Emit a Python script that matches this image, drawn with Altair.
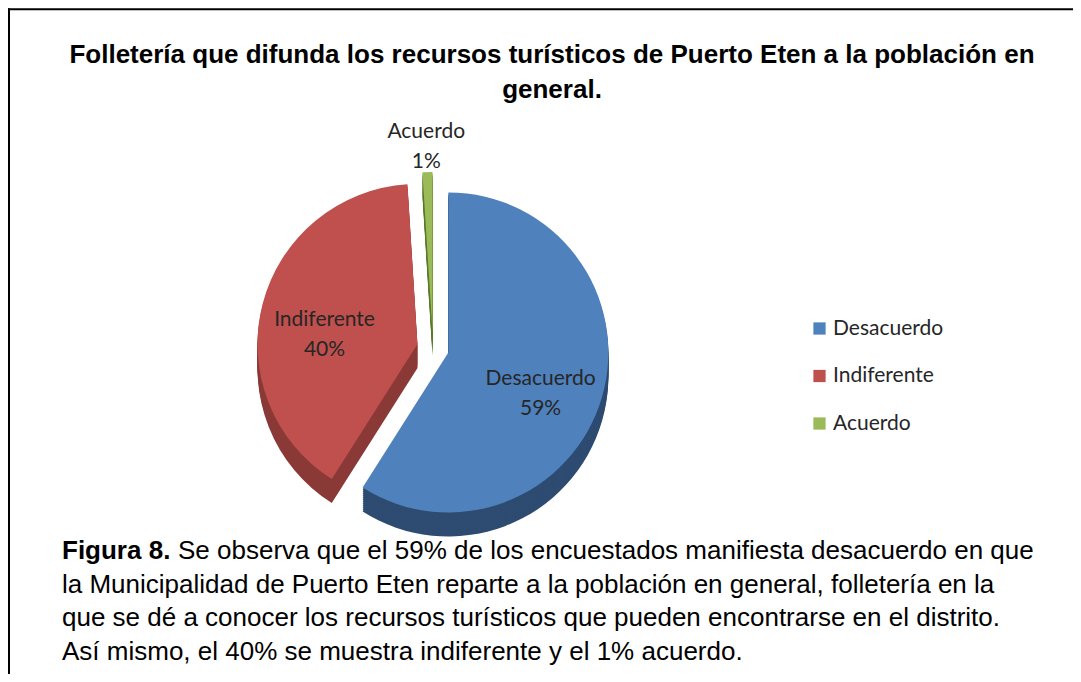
import altair as alt
import pandas as pd

# ---- data ----
categorias = ["Desacuerdo", "Indiferente", "Acuerdo"]
porcentajes = [59, 40, 1]
colores = ["#4f81bd", "#c0504d", "#9bbb59"]
colores_lado = ["#2e4b71", "#8a3a37", "#5b7a2b"]
titulo = [
    "Folletería que difunda los recursos turísticos de Puerto Eten a la población en",
    "general.",
]
figura = ["Figura 8."]
pie_lineas = [
    "Se observa que el 59% de los encuestados manifiesta desacuerdo en que",
    "la Municipalidad de Puerto Eten reparte a la población en general, folletería en la",
    "que se dé a conocer los recursos turísticos que pueden encontrarse en el distrito.",
    "Así mismo, el 40% se muestra indiferente y el 1% acuerdo.",
]

# ---- layout constants (pixels) ----
W, H = 1065, 666
CX, CY, R, EXP, DEPTH = 425, 340, 160, 16, 24

df = pd.DataFrame({"categoria": categorias, "pct": porcentajes, "orden": list(range(len(categorias)))})

side_expr = " : ".join(
    [f"datum.categoria == '{c}' ? '{col}'" for c, col in zip(categorias, colores_lado)] + ["'#444444'"]
)

base = (
    alt.Chart(df)
    .transform_joinaggregate(total="sum(pct)")
    .transform_window(cum="sum(pct)", sort=[alt.SortField("orden")], frame=[None, 0])
    .transform_calculate(t0="2*PI*(datum.cum-datum.pct)/datum.total")
    .transform_calculate(t1="2*PI*datum.cum/datum.total")
    .transform_calculate(mid="(datum.t0+datum.t1)/2")
    .transform_calculate(cx=f"{CX}+{EXP}*sin(datum.mid)")
    .transform_calculate(cy=f"{CY}-{EXP}*cos(datum.mid)")
)

X = alt.X("cx:Q", scale=None, axis=None)
TH = alt.Theta("t0:Q", scale=None, stack=False)
TH2 = alt.Theta2("t1:Q")

layers = []

# frame lines
frame = alt.Chart(pd.DataFrame({"k": [0]}))
layers.append(frame.mark_rule(color="black", strokeWidth=2).encode(
    x=alt.value(0), x2=alt.value(W), y=alt.value(1.3)))
layers.append(frame.mark_rule(color="black", strokeWidth=2).encode(
    x=alt.value(1), y=alt.value(0.3), y2=alt.value(H)))

# depth (side) of the slices
for d in range(DEPTH, 0, -2):
    layers.append(
        base.transform_calculate(yd=f"datum.cy+{d}", sc=side_expr)
        .mark_arc(outerRadius=R)
        .encode(
            x=X,
            y=alt.Y("yd:Q", scale=None, axis=None),
            theta=TH,
            theta2=TH2,
            fill=alt.Fill("sc:N", scale=None),
        )
    )

# top faces
layers.append(
    base.mark_arc(outerRadius=R).encode(
        x=X,
        y=alt.Y("cy:Q", scale=None, axis=None),
        theta=TH,
        theta2=TH2,
        color=alt.Color(
            "categoria:N",
            scale=alt.Scale(domain=categorias, range=colores),
            sort=categorias,
            legend=alt.Legend(
                title=None,
                orient="none",
                legendX=801,
                legendY=310,
                symbolType="square",
                symbolSize=150,
                symbolStrokeWidth=0,
                labelFont="Lato",
                labelFontSize=21,
                labelColor="#262626",
                labelOffset=3,
                rowPadding=25.5,
                padding=0,
            ),
        ),
    )
)

# slice labels
layers.append(
    base.transform_calculate(
        lbl="datum.categoria + '\\n' + datum.pct + '%'",
        lr=f"datum.categoria == 'Acuerdo' ? {R + 40} : {R * 0.6}",
    )
    .mark_text(lineBreak="\n", font="Lato", fontSize=21, color="#262626", lineHeight=30,
               align="center", baseline="middle")
    .encode(
        x=X,
        y=alt.Y("cy:Q", scale=None, axis=None),
        theta=alt.Theta("mid:Q", scale=None, stack=False),
        radius=alt.Radius("lr:Q", scale=None),
        text="lbl:N",
    )
)

# title
layers.append(
    alt.Chart(pd.DataFrame({"t": titulo, "i": list(range(len(titulo)))}))
    .transform_calculate(yy="55 + 35*datum.i")
    .mark_text(font="Liberation Sans", fontWeight="bold", fontSize=26, color="black",
               align="center", baseline="alphabetic")
    .encode(x=alt.value(544), y=alt.Y("yy:Q", scale=None, axis=None), text="t:N")
)

# caption
layers.append(
    alt.Chart(pd.DataFrame({"t": figura}))
    .mark_text(font="Liberation Sans", fontWeight="bold", fontSize=26, color="black",
               align="left", baseline="alphabetic")
    .encode(x=alt.value(54), y=alt.value(551), text="t:N")
)
layers.append(
    alt.Chart(pd.DataFrame({"t": pie_lineas, "i": list(range(len(pie_lineas)))}))
    .transform_calculate(yy="551 + 33.5*datum.i", xx="datum.i == 0 ? 170 : 54")
    .mark_text(font="Liberation Sans", fontSize=26, color="black",
               align="left", baseline="alphabetic")
    .encode(x=alt.X("xx:Q", scale=None, axis=None), y=alt.Y("yy:Q", scale=None, axis=None), text="t:N")
)

chart = (
    alt.layer(*layers)
    .properties(width=W, height=H, padding=0, autosize=alt.AutoSizeParams(type="none"))
    .configure_view(stroke="transparent")
)

chart.save("out.html", embed_options={"renderer": "svg", "actions": False})
